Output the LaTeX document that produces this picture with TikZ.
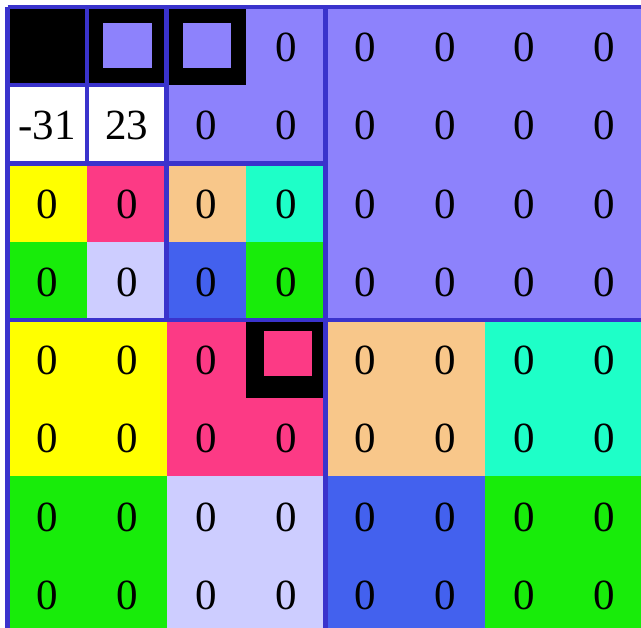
\documentclass[tikz,border=0pt]{standalone}
\usepackage{fontspec}
\setmainfont{Liberation Serif}
\definecolor{gridblue}{RGB}{58,51,204}
\definecolor{cpurple}{RGB}{141,130,252}
\definecolor{cyellow}{RGB}{255,255,0}
\definecolor{cpink}{RGB}{252,58,133}
\definecolor{cpeach}{RGB}{248,199,138}
\definecolor{caqua}{RGB}{30,255,200}
\definecolor{croyal}{RGB}{67,97,238}
\definecolor{cgreen}{RGB}{24,236,10}
\definecolor{clav}{RGB}{205,205,255}
\tikzset{
  gridline/.style={draw=gridblue,line width=4.5pt},
  num/.style={inner sep=0pt,font=\fontsize{43}{43}\selectfont,text=black}
}
\newcommand{\CX}[1]{\fpeval{7.5+79.5*(#1)}}
\newcommand{\CY}[1]{\fpeval{7+78.25*(#1)}}
\newcommand{\cellfill}[5]{\fill[#1] (\CX{#2},\CY{#3}) rectangle (\CX{#4},\CY{#5});}
\begin{document}
\begin{tikzpicture}[x=1pt,y=-1pt]
\useasboundingbox (0,0) rectangle (641,628);
\clip (0,0) rectangle (641,628);
\fill[white] (0,0) rectangle (641,628);
% fills: color, col0,row0,col1,row1
\cellfill{black}{0}{0}{1}{1}
\cellfill{black}{1}{0}{2}{1}
\cellfill{white}{0}{1}{2}{2}
\cellfill{cpurple}{2}{0}{4}{2}
\cellfill{black}{2}{0}{3}{1}
\cellfill{cpurple}{4}{0}{8}{4}
\cellfill{cyellow}{0}{2}{1}{3}
\cellfill{cpink}{1}{2}{2}{3}
\cellfill{cpeach}{2}{2}{3}{3}
\cellfill{caqua}{3}{2}{4}{3}
\cellfill{cgreen}{0}{3}{1}{4}
\cellfill{clav}{1}{3}{2}{4}
\cellfill{croyal}{2}{3}{3}{4}
\cellfill{cgreen}{3}{3}{4}{4}
\cellfill{cyellow}{0}{4}{2}{6}
\cellfill{cpink}{2}{4}{4}{6}
\cellfill{cpeach}{4}{4}{6}{6}
\cellfill{caqua}{6}{4}{8}{6}
\cellfill{cgreen}{0}{6}{2}{8}
\cellfill{clav}{2}{6}{4}{8}
\cellfill{croyal}{4}{6}{6}{8}
\cellfill{cgreen}{6}{6}{8}{8}
\cellfill{black}{3}{4}{4}{5}
% inner squares of the black frames
\fill[cpurple] (103,23) rectangle (152,68);
\fill[cpurple] (183,23) rectangle (231,68);
\fill[cpink] (264,331) rectangle (312,376);
% grid lines
\draw[gridline] (\CX{0},\CY{0}) -- (\CX{8},\CY{0});
\draw[gridline] (\CX{0},\CY{0}) -- (\CX{0},\CY{8});
\draw[gridline] (\CX{4},\CY{0}) -- (\CX{4},\CY{8});
\draw[gridline] (\CX{0},\CY{4}) -- (\CX{8},\CY{4});
\draw[gridline] (\CX{2},\CY{0}) -- (\CX{2},\CY{4});
\draw[gridline] (\CX{0},\CY{2}) -- (\CX{4},\CY{2});
\draw[gridline] (\CX{1},\CY{0}) -- (\CX{1},\CY{2});
\draw[gridline] (\CX{0},\CY{1}) -- (\CX{2},\CY{1});
% numbers
\newcommand{\numat}[3]{\node[num] (n-#1-#2) at ({\CX{#2+0.5}},{\CY{#1+0.5}+1.5}) {#3};}
\foreach \c in {3,...,7} {\numat{0}{\c}{0}}
\numat{1}{0}{-31}
\numat{1}{1}{23}
\foreach \c in {2,...,7} {\numat{1}{\c}{0}}
\foreach \r in {2,3,5,6,7} {\foreach \c in {0,...,7} {\numat{\r}{\c}{0}}}
\foreach \c in {0,1,2,4,5,6,7} {\numat{4}{\c}{0}}
\end{tikzpicture}
\end{document}
